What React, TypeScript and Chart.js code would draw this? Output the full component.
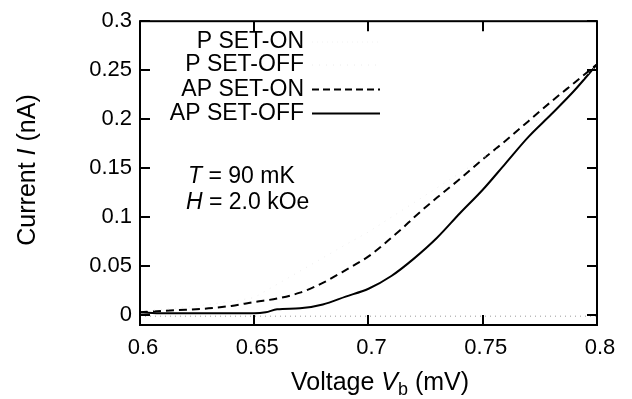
import React, { useEffect, useRef } from "react";
import { Chart, registerables } from "chart.js";

Chart.register(...registerables);

// ---- data ----
const apOnV = [0.6, 0.61, 0.62, 0.63, 0.64, 0.65, 0.66, 0.67, 0.68, 0.69, 0.7, 0.705, 0.71, 0.715, 0.72, 0.73, 0.74, 0.75, 0.76, 0.77, 0.78, 0.79, 0.8];
const apOnI = [0.003, 0.0045, 0.0055, 0.007, 0.0095, 0.0135, 0.017, 0.023, 0.033, 0.046, 0.06, 0.069, 0.079, 0.089, 0.1, 0.12, 0.139, 0.159, 0.178, 0.198, 0.218, 0.237, 0.256];

const apOffV = [0.6, 0.61, 0.62, 0.63, 0.64, 0.65, 0.655, 0.66, 0.67, 0.68, 0.69, 0.7, 0.71, 0.72, 0.73, 0.74, 0.75, 0.76, 0.77, 0.78, 0.79, 0.8];
const apOffI = [0.003, 0.002, 0.002, 0.002, 0.002, 0.002, 0.003, 0.006, 0.007, 0.011, 0.019, 0.027, 0.04, 0.058, 0.079, 0.104, 0.128, 0.155, 0.182, 0.205, 0.229, 0.256];

const pOnV = [0.6, 0.65, 0.7, 0.75, 0.8];
const pOnI = [-0.001, -0.001, -0.001, -0.001, -0.001];

const pOffV = [0.6, 0.62, 0.64, 0.65, 0.67, 0.69, 0.7, 0.72, 0.74, 0.76, 0.78, 0.8];
const pOffI = [0.004, 0.008, 0.014, 0.018, 0.045, 0.072, 0.085, 0.115, 0.145, 0.175, 0.21, 0.255];

const xTicks = [0.6, 0.65, 0.7, 0.75, 0.8];
const xTickLabels = ["0.6", "0.65", "0.7", "0.75", "0.8"];
const yTicks = [0, 0.05, 0.1, 0.15, 0.2, 0.25, 0.3];
const yTickLabels = ["0", "0.05", "0.1", "0.15", "0.2", "0.25", "0.3"];

const seriesNames = ["P SET-ON", "P SET-OFF", "AP SET-ON", "AP SET-OFF"];

const FONT = "'Liberation Sans', Arial, sans-serif";

function pts(xs: number[], ys: number[]) {
  return xs.map((x, i) => ({ x, y: ys[i] }));
}

const decorPlugin = {
  id: "decor",
  beforeDraw(chart: any) {
    const ctx = chart.ctx;
    ctx.save();
    ctx.fillStyle = "#fff";
    ctx.fillRect(0, 0, chart.width, chart.height);
    ctx.restore();
  },
  afterDraw(chart: any) {
    const ctx = chart.ctx;
    const { left, right, top, bottom } = chart.chartArea;
    const xs = chart.scales.x;
    const ys = chart.scales.y;
    ctx.save();
    // frame
    ctx.strokeStyle = "#000";
    ctx.lineWidth = 2;
    ctx.strokeRect(left, top, right - left, bottom - top);
    // inward ticks
    const tl = 10;
    ctx.beginPath();
    yTicks.forEach((v) => {
      const py = Math.round(ys.getPixelForValue(v));
      ctx.moveTo(left, py);
      ctx.lineTo(left + tl, py);
      ctx.moveTo(right, py);
      ctx.lineTo(right - tl, py);
    });
    xTicks.forEach((v) => {
      const px = Math.round(xs.getPixelForValue(v));
      ctx.moveTo(px, bottom);
      ctx.lineTo(px, bottom - tl);
      ctx.moveTo(px, top);
      ctx.lineTo(px, top + tl);
    });
    ctx.stroke();

    // legend
    const ds = chart.data.datasets;
    const rowY = [42, 65, 89.5, 113.5];
    ctx.font = `23px ${FONT}`;
    ctx.textAlign = "right";
    ctx.textBaseline = "middle";
    seriesNames.forEach((name, i) => {
      ctx.fillStyle = "#000";
      ctx.fillText(name, 304, rowY[i]);
      const d = ds[i];
      ctx.save();
      ctx.strokeStyle = i === 0 ? "#f2f2f2" : d.borderColor;
      ctx.lineWidth = d.borderWidth;
      ctx.setLineDash(i === 2 ? [7, 4] : d.borderDash || []);
      ctx.beginPath();
      ctx.moveTo(312, rowY[i]);
      ctx.lineTo(380, rowY[i]);
      ctx.stroke();
      ctx.restore();
    });

    // annotations
    const drawRuns = (runs: [string, string][], x: number, y: number, align: "left" | "center") => {
      let total = 0;
      runs.forEach(([t, f]) => {
        ctx.font = f;
        total += ctx.measureText(t).width;
      });
      let cx = align === "left" ? x : x - total / 2;
      ctx.textAlign = "left";
      runs.forEach(([t, f]) => {
        ctx.font = f;
        ctx.fillText(t, cx, y);
        cx += ctx.measureText(t).width;
      });
    };
    ctx.fillStyle = "#000";
    ctx.textBaseline = "middle";
    const n23 = `23px ${FONT}`;
    const i23 = `italic 23px ${FONT}`;
    drawRuns([["T", i23], [" = 90 mK", n23]], 188, 177, "left");
    drawRuns([["H", i23], [" = 2.0 kOe", n23]], 186, 203, "left");

    // x title
    const n25 = `25px ${FONT}`;
    const i25 = `italic 25px ${FONT}`;
    ctx.textBaseline = "alphabetic";
    {
      const runs: [string, string][] = [["Voltage ", n25], ["V", i25]];
      const sub = "b";
      const subF = `18px ${FONT}`;
      const rest = " (mV)";
      let total = 0;
      runs.forEach(([t, f]) => { ctx.font = f; total += ctx.measureText(t).width; });
      ctx.font = subF; const sw = ctx.measureText(sub).width; total += sw;
      ctx.font = n25; total += ctx.measureText(rest).width;
      let cx = 380 - total / 2;
      const by = 390;
      ctx.textAlign = "left";
      runs.forEach(([t, f]) => { ctx.font = f; ctx.fillText(t, cx, by); cx += ctx.measureText(t).width; });
      ctx.font = subF; ctx.fillText(sub, cx, by + 5); cx += sw;
      ctx.font = n25; ctx.fillText(rest, cx, by);
    }
    // y title
    ctx.save();
    ctx.translate(28, 170);
    ctx.rotate(-Math.PI / 2);
    ctx.textBaseline = "middle";
    drawRuns([["Current ", n25], ["I", i25], [" (nA)", n25]], 0, 0, "center");
    ctx.restore();

    ctx.restore();
  },
};

export default function App() {
  const ref = useRef<HTMLCanvasElement | null>(null);
  useEffect(() => {
    if (!ref.current) return;
    const chart = new Chart(ref.current, {
      type: "line",
      data: {
        datasets: [
          {
            label: seriesNames[0],
            data: pts(pOnV, pOnI),
            borderColor: "#9a9a9a",
            borderWidth: 1,
            borderDash: [1, 4],
            pointRadius: 0,
          },
          {
            label: seriesNames[1],
            data: pts(pOffV, pOffI),
            borderColor: "#ececec",
            borderWidth: 1,
            borderDash: [1, 6],
            pointRadius: 0,
          },
          {
            label: seriesNames[2],
            data: pts(apOnV, apOnI),
            borderColor: "#000",
            borderWidth: 2,
            borderDash: [8, 5],
            pointRadius: 0,
            cubicInterpolationMode: "monotone",
          },
          {
            label: seriesNames[3],
            data: pts(apOffV, apOffI),
            borderColor: "#000",
            borderWidth: 2,
            pointRadius: 0,
            cubicInterpolationMode: "monotone",
          },
        ],
      } as any,
      options: {
        responsive: false,
        devicePixelRatio: 1,
        animation: false,
        layout: { padding: { left: 0, right: 35, top: 19, bottom: 0 } },
        plugins: { legend: { display: false }, tooltip: { enabled: false } },
        scales: {
          x: {
            type: "linear",
            min: 0.6,
            max: 0.8,
            grid: { display: false, drawTicks: false },
            border: { display: false },
            afterBuildTicks: (s: any) => { s.ticks = xTicks.map((v) => ({ value: v })); },
            afterFit: (s: any) => { s.height = 74; },
            ticks: {
              autoSkip: false,
              maxRotation: 0,
              padding: 10,
              labelOffset: 3,
              color: "#000",
              font: { family: FONT, size: 22 },
              callback: (_v: any, i: number) => xTickLabels[i],
            },
          },
          y: {
            type: "linear",
            min: -0.01,
            max: 0.3,
            grid: { display: false, drawTicks: false },
            border: { display: false },
            afterBuildTicks: (s: any) => { s.ticks = yTicks.map((v) => ({ value: v })); },
            afterFit: (s: any) => { s.width = 140; },
            ticks: {
              autoSkip: false,
              padding: 8,
              color: "#000",
              font: { family: FONT, size: 22 },
              callback: (_v: any, i: number) => yTickLabels[i],
            },
          },
        },
      } as any,
      plugins: [decorPlugin],
    });
    return () => chart.destroy();
  }, []);
  return (
    <div style={{ position: "fixed", left: 0, top: 0, width: 632, height: 399, background: "#fff" }}>
      <canvas ref={ref} width={632} height={399} style={{ display: "block", width: 632, height: 399 }} />
    </div>
  );
}
